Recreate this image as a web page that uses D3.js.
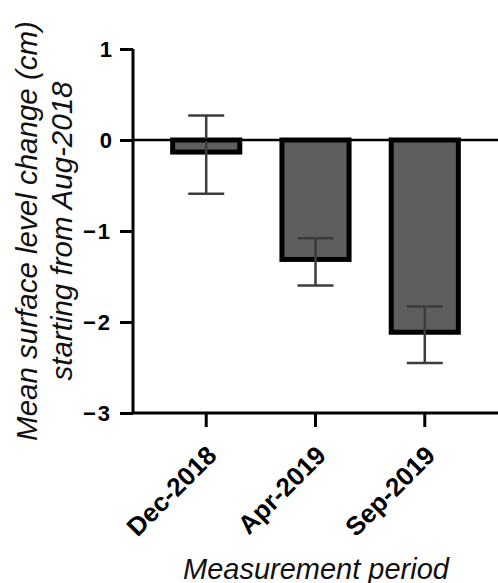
<!DOCTYPE html>
<html>
<head>
<meta charset="utf-8">
<script src="https://cdn.jsdelivr.net/npm/d3@7"></script>
<style>
  html, body { margin: 0; padding: 0; background: #fff; }
  svg { display: block; font-family: "Liberation Sans", Arial, sans-serif; }
  .ylab { font-size: 22px !important; font-weight: bold; }
</style>
</head>
<body>
<svg id="chart" width="498" height="583"></svg>
<script>
const categories = ["Dec-2018", "Apr-2019", "Sep-2019"];
const means = [-0.16, -1.34, -2.14];
const errors = [0.43, 0.26, 0.31];
const yTicks = [1, 0, -1, -2, -3];
const yTitleLines = ["Mean surface level change (cm)", "starting from Aug-2018"];
const xTitle = "Measurement period";

const svg = d3.select("#chart");
const mLeft = 133, mRight = 498, mTop = 49, mBottom = 413;

const y = d3.scaleLinear().domain([-3, 1]).range([mBottom, mTop]);
const x = d3.scaleBand().domain(categories).range([mLeft, mRight]).paddingInner(0.34).paddingOuter(0.34);

const data = categories.map((c, i) => ({ c, m: means[i], e: errors[i] }));

// bars (outer edge matches value)
const sw = 5;
svg.append("g").selectAll("rect").data(data).join("rect")
  .attr("x", d => x(d.c) + sw / 2)
  .attr("y", d => y(0))
  .attr("width", x.bandwidth() - sw)
  .attr("height", d => y(d.m) - y(0) - sw / 2)
  .attr("fill", "#5e5e5e")
  .attr("stroke", "#000")
  .attr("stroke-width", sw);

// error bars
const eg = svg.append("g").attr("stroke", "#3c3c3c").attr("stroke-width", 2.5).attr("fill", "none");
const cap = 18;
data.forEach(d => {
  const cx = x(d.c) + x.bandwidth() / 2;
  eg.append("line").attr("x1", cx).attr("x2", cx).attr("y1", y(d.m + d.e)).attr("y2", y(d.m - d.e));
  eg.append("line").attr("x1", cx - cap).attr("x2", cx + cap).attr("y1", y(d.m + d.e)).attr("y2", y(d.m + d.e));
  eg.append("line").attr("x1", cx - cap).attr("x2", cx + cap).attr("y1", y(d.m - d.e)).attr("y2", y(d.m - d.e));
});

// zero line
svg.append("line").attr("x1", mLeft).attr("x2", mRight).attr("y1", y(0)).attr("y2", y(0))
  .attr("stroke", "#000").attr("stroke-width", 2.5);

// y axis
const yAxis = svg.append("g").attr("transform", `translate(${mLeft},0)`)
  .call(d3.axisLeft(y).tickValues(yTicks).tickSize(13).tickPadding(8)
    .tickFormat(d => d < 0 ? "\u2212" + Math.abs(d) : String(d)));
yAxis.attr("font-size", 22).attr("font-family", "Liberation Sans, Arial, sans-serif");
yAxis.select(".domain").attr("stroke-width", 3).attr("d", `M0,${mTop}V${mBottom}`);
yAxis.selectAll(".tick line").attr("stroke-width", 3);
yAxis.selectAll(".tick text").attr("class", "ylab")
  .style("font-size", "22px").style("font-weight", "bold").attr("fill", "#000")
  .attr("dy", "0.36em")
  .attr("letter-spacing", d => d < 0 ? 2 : 0);

// x axis
const xAxis = svg.append("g").attr("transform", `translate(0,${mBottom})`)
  .call(d3.axisBottom(x).tickSize(14).tickPadding(4));
xAxis.select(".domain").attr("stroke-width", 3).attr("d", `M${mLeft},0H${mRight}`);
xAxis.selectAll(".tick line").attr("stroke-width", 3);
xAxis.selectAll(".tick text")
  .style("font-size", "26px").style("font-weight", "bold").attr("fill", "#000")
  .attr("font-family", "Liberation Sans, Arial, sans-serif")
  .attr("text-anchor", "end")
  .attr("dy", null)
  .attr("y", 0)
  .attr("transform", "translate(12,44) rotate(-45)");

// y title
const yt = svg.append("text")
  .attr("transform", `translate(0,${(mTop + mBottom) / 2}) rotate(-90)`)
  .attr("text-anchor", "middle")
  .attr("font-size", 29.5).attr("font-style", "italic").attr("fill", "#111");
yt.append("tspan").attr("x", 0).attr("y", 37).text(yTitleLines[0]);
yt.append("tspan").attr("x", 0).attr("y", 72).text(yTitleLines[1]);

// x title
svg.append("text")
  .attr("x", 316).attr("y", 579)
  .attr("text-anchor", "middle")
  .attr("font-size", 29).attr("font-style", "italic").attr("fill", "#111")
  .text(xTitle);
</script>
</body>
</html>
